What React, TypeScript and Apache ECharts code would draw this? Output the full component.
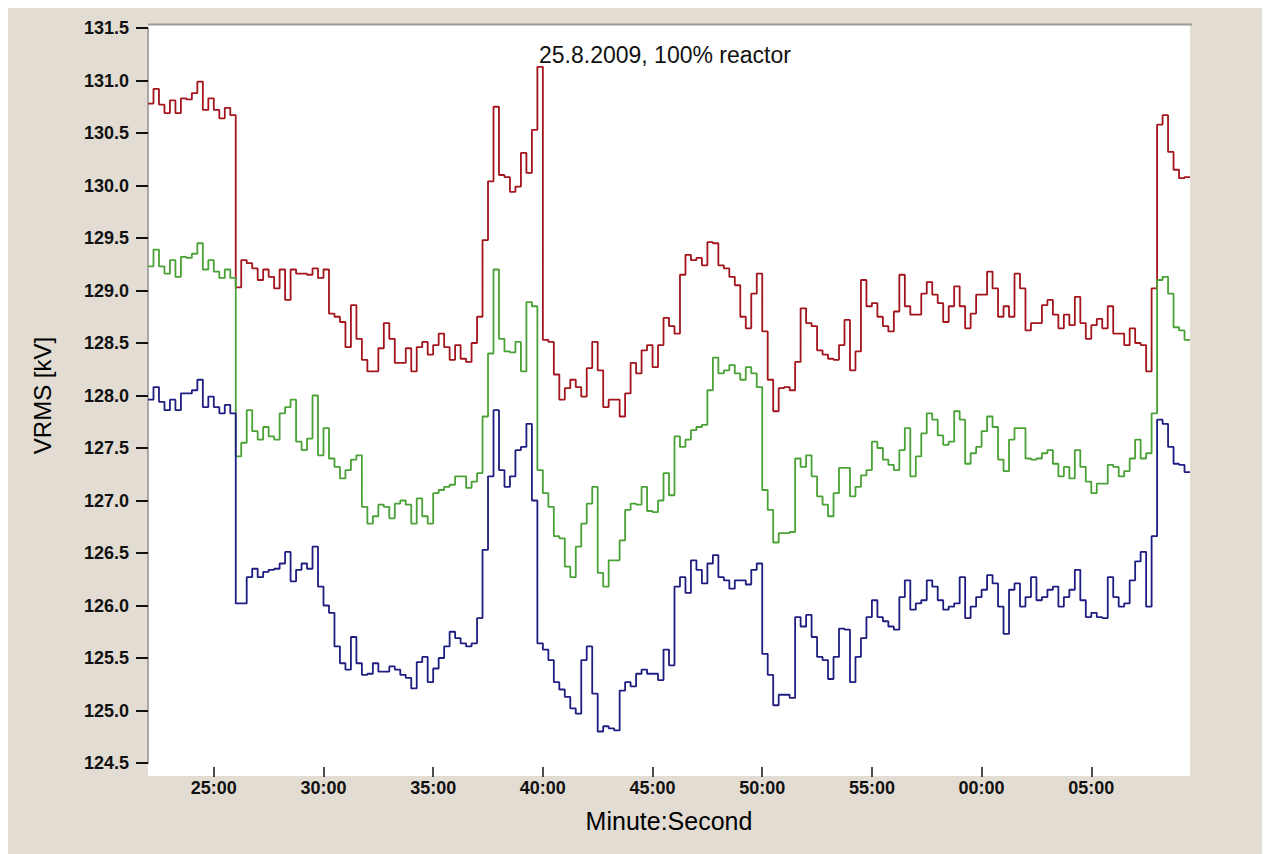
import React, { useEffect, useRef } from "react";
import * as echarts from "echarts";

// sample interval 0.25 min (15 s), first sample at 22:00
const START_MIN = 22;
const STEP_MIN = 0.25;

const redValues = [
  130.78, 130.92, 130.77, 130.69, 130.81, 130.69, 130.83, 130.82, 130.88, 130.99,
  130.72, 130.83, 130.72, 130.64, 130.74, 130.67, 129.03, 129.29, 129.26, 129.21,
  129.10, 129.20, 129.13, 129.02, 129.20, 128.91, 129.20, 129.16, 129.16, 129.15,
  129.21, 129.12, 129.20, 128.78, 128.75, 128.70, 128.46, 128.86, 128.54, 128.34,
  128.23, 128.23, 128.45, 128.69, 128.54, 128.31, 128.31, 128.45, 128.23, 128.46,
  128.51, 128.39, 128.48, 128.59, 128.46, 128.34, 128.48, 128.35, 128.32, 128.50,
  128.75, 129.48, 130.04, 130.75, 130.10, 130.08, 129.94, 129.99, 130.31, 130.12,
  130.53, 131.13, 128.53, 128.51, 128.20, 127.96, 128.07, 128.15, 128.08, 127.99,
  128.26, 128.51, 128.24, 127.89, 127.96, 127.96, 127.80, 128.02, 128.31, 128.21,
  128.43, 128.48, 128.27, 128.48, 128.74, 128.66, 128.59, 129.15, 129.34, 129.29,
  129.31, 129.24, 129.46, 129.45, 129.24, 129.21, 129.13, 129.05, 128.75, 128.64,
  128.97, 129.16, 128.61, 128.15, 127.85, 128.07, 128.08, 128.05, 128.32, 128.83,
  128.69, 128.66, 128.43, 128.39, 128.35, 128.34, 128.48, 128.72, 128.24, 128.42,
  129.10, 128.85, 128.88, 128.75, 128.66, 128.61, 128.80, 129.15, 128.85, 128.77,
  128.77, 128.97, 129.08, 128.96, 128.88, 128.70, 128.85, 129.04, 128.85, 128.64,
  128.78, 128.96, 128.96, 129.18, 129.02, 128.75, 128.85, 128.75, 129.16, 129.02,
  128.62, 128.69, 128.69, 128.86, 128.91, 128.77, 128.64, 128.77, 128.67, 128.94,
  128.69, 128.54, 128.67, 128.73, 128.64, 128.85, 128.59, 128.59, 128.48, 128.64,
  128.50, 128.48, 128.23, 129.02, 130.58, 130.67, 130.32, 130.15, 130.07, 130.08,
  130.08,
];

const greenValues = [
  129.23, 129.39, 129.23, 129.16, 129.29, 129.13, 129.32, 129.31, 129.35, 129.45,
  129.20, 129.29, 129.18, 129.12, 129.20, 129.12, 127.42, 127.55, 127.86, 127.66,
  127.58, 127.70, 127.61, 127.58, 127.83, 127.89, 127.96, 127.56, 127.48, 127.59,
  128.00, 127.43, 127.69, 127.40, 127.32, 127.21, 127.29, 127.39, 127.43, 126.94,
  126.78, 126.85, 126.96, 126.94, 126.83, 126.97, 127.00, 126.96, 126.78, 127.02,
  126.85, 126.78, 127.07, 127.10, 127.13, 127.15, 127.23, 127.23, 127.12, 127.18,
  127.26, 127.80, 128.40, 129.20, 128.54, 128.42, 128.41, 128.51, 128.23, 128.89,
  128.85, 127.29, 127.07, 126.94, 126.66, 126.64, 126.37, 126.27, 126.56, 126.78,
  126.97, 127.13, 126.31, 126.18, 126.43, 126.43, 126.62, 126.91, 126.97, 126.96,
  127.13, 126.90, 126.89, 127.00, 127.26, 127.05, 127.61, 127.51, 127.58, 127.67,
  127.70, 127.72, 128.05, 128.36, 128.21, 128.24, 128.29, 128.21, 128.15, 128.27,
  128.21, 128.08, 127.10, 126.91, 126.60, 126.69, 126.69, 126.70, 127.40, 127.32,
  127.43, 127.23, 127.04, 126.96, 126.85, 127.07, 127.31, 127.31, 127.04, 127.13,
  127.24, 127.29, 127.56, 127.50, 127.39, 127.34, 127.29, 127.48, 127.69, 127.23,
  127.42, 127.64, 127.83, 127.77, 127.62, 127.53, 127.56, 127.85, 127.77, 127.35,
  127.45, 127.51, 127.66, 127.80, 127.70, 127.39, 127.28, 127.58, 127.69, 127.69,
  127.40, 127.39, 127.40, 127.45, 127.48, 127.35, 127.23, 127.32, 127.21, 127.48,
  127.32, 127.18, 127.07, 127.16, 127.16, 127.34, 127.32, 127.23, 127.28, 127.40,
  127.58, 127.40, 127.45, 127.83, 129.10, 129.13, 128.97, 128.65, 128.62, 128.53,
  128.53,
];

const blueValues = [
  127.96, 128.08, 127.94, 127.86, 127.96, 127.86, 128.02, 128.02, 128.05, 128.15,
  127.89, 127.99, 127.89, 127.83, 127.91, 127.83, 126.02, 126.02, 126.27, 126.35,
  126.27, 126.32, 126.34, 126.35, 126.40, 126.51, 126.23, 126.34, 126.40, 126.35,
  126.56, 126.18, 126.00, 125.93, 125.61, 125.45, 125.39, 125.70, 125.45, 125.34,
  125.35, 125.45, 125.37, 125.37, 125.42, 125.39, 125.34, 125.31, 125.21, 125.46,
  125.51, 125.27, 125.40, 125.50, 125.61, 125.75, 125.69, 125.64, 125.61, 125.64,
  125.88, 126.53, 127.23, 127.86, 127.29, 127.13, 127.23, 127.48, 127.51, 127.73,
  127.00, 125.64, 125.58, 125.48, 125.27, 125.20, 125.13, 125.02, 124.97, 125.48,
  125.61, 125.16, 124.80, 124.85, 124.83, 124.81, 125.19, 125.27, 125.23, 125.35,
  125.39, 125.35, 125.35, 125.29, 125.58, 125.43, 126.18, 126.27, 126.12, 126.43,
  126.34, 126.21, 126.40, 126.48, 126.27, 126.24, 126.16, 126.24, 126.24, 126.20,
  126.34, 126.40, 125.54, 125.34, 125.05, 125.15, 125.15, 125.12, 125.89, 125.80,
  125.91, 125.70, 125.51, 125.48, 125.30, 125.51, 125.78, 125.77, 125.27, 125.51,
  125.69, 125.89, 126.05, 125.89, 125.85, 125.80, 125.77, 126.08, 126.24, 125.96,
  126.02, 126.05, 126.24, 126.18, 126.05, 125.96, 125.99, 126.02, 126.27, 125.88,
  125.99, 126.08, 126.15, 126.29, 126.21, 125.99, 125.73, 126.15, 126.21, 125.99,
  126.08, 126.27, 126.05, 126.08, 126.15, 126.18, 125.99, 126.08, 126.15, 126.34,
  126.05, 125.89, 125.93, 125.89, 125.88, 126.27, 126.08, 125.99, 126.02, 126.24,
  126.42, 126.51, 125.99, 126.66, 127.77, 127.73, 127.51, 127.35, 127.34, 127.27,
  127.27,
];

const xTickLabels = ["25:00", "30:00", "35:00", "40:00", "45:00", "50:00", "55:00", "00:00", "05:00"];

const pad = (n: number) => (n < 10 ? "0" + n : "" + n);
const categories = redValues.map((_, i) => {
  const t = START_MIN + i * STEP_MIN;
  const m = Math.floor(t) % 60;
  const s = Math.round((t - Math.floor(t)) * 60);
  return pad(m) + ":" + pad(s);
});

const isTick = (_idx: number, value: string) => xTickLabels.indexOf(value) >= 0;

export default function App() {
  const ref = useRef<HTMLDivElement>(null);
  useEffect(() => {
    if (!ref.current) return;
    const chart = echarts.init(ref.current, undefined, { renderer: "svg" });
    const font = "Arial, 'Liberation Sans', sans-serif";
    chart.setOption({
      animation: false,
      backgroundColor: "#e2dcd3",
      grid: { left: 140, right: 80, top: 20, bottom: 91, containLabel: false },
      graphic: [
        {
          type: "rect",
          z: -10,
          shape: { x: 140, y: 16, width: 1042, height: 752 },
          style: { fill: "#ffffff" },
          silent: true,
        },
        {
          type: "line",
          z: -5,
          shape: { x1: 140, y1: 16.5, x2: 1184, y2: 16.5 },
          style: { stroke: "#9a9a9a", lineWidth: 2 },
          silent: true,
        },
        {
          type: "text",
          x: 531,
          y: 47,
          style: {
            text: "25.8.2009, 100% reactor",
            font: "23px " + font,
            fill: "#111111",
            verticalAlign: "middle",
          },
        },
      ],
      xAxis: {
        type: "category",
        data: categories,
        boundaryGap: false,
        offset: 4,
        axisLine: { show: false },
        axisTick: { show: true, interval: isTick, length: 10, lineStyle: { color: "#111", width: 1.5 } },
        axisLabel: { interval: isTick, margin: 12, fontSize: 18, fontWeight: "bold", color: "#111", fontFamily: font },
        splitLine: { show: false },
        name: "Minute:Second",
        nameLocation: "middle",
        nameGap: 41,
        nameTextStyle: { fontSize: 25, color: "#000", fontFamily: font },
      },
      yAxis: {
        type: "value",
        min: 124.5,
        max: 131.5,
        interval: 0.5,
        axisLine: { show: true, lineStyle: { color: "#a8a8a8", width: 2 } },
        axisTick: { show: true, length: 12, lineStyle: { color: "#111", width: 2 } },
        axisLabel: {
          margin: 19,
          fontSize: 18,
          fontWeight: "bold",
          color: "#111",
          fontFamily: font,
          formatter: (v: number) => v.toFixed(1),
        },
        splitLine: { show: false },
        name: "VRMS [kV]",
        nameLocation: "middle",
        nameRotate: 90,
        nameGap: 94,
        nameTextStyle: { fontSize: 24, color: "#000", fontFamily: font },
      },
      series: [
        {
          name: "L1",
          type: "line",
          step: "end",
          data: redValues,
          showSymbol: false,
          lineStyle: { color: "#a3141c", width: 1.8 },
          itemStyle: { color: "#a3141c" },
        },
        {
          name: "L2",
          type: "line",
          step: "end",
          data: greenValues,
          showSymbol: false,
          lineStyle: { color: "#4aa236", width: 1.8 },
          itemStyle: { color: "#4aa236" },
        },
        {
          name: "L3",
          type: "line",
          step: "end",
          data: blueValues,
          showSymbol: false,
          lineStyle: { color: "#1e1e82", width: 1.8 },
          itemStyle: { color: "#1e1e82" },
        },
      ],
    });
    return () => chart.dispose();
  }, []);
  return <div ref={ref} style={{ width: 1262, height: 846 }} />;
}
